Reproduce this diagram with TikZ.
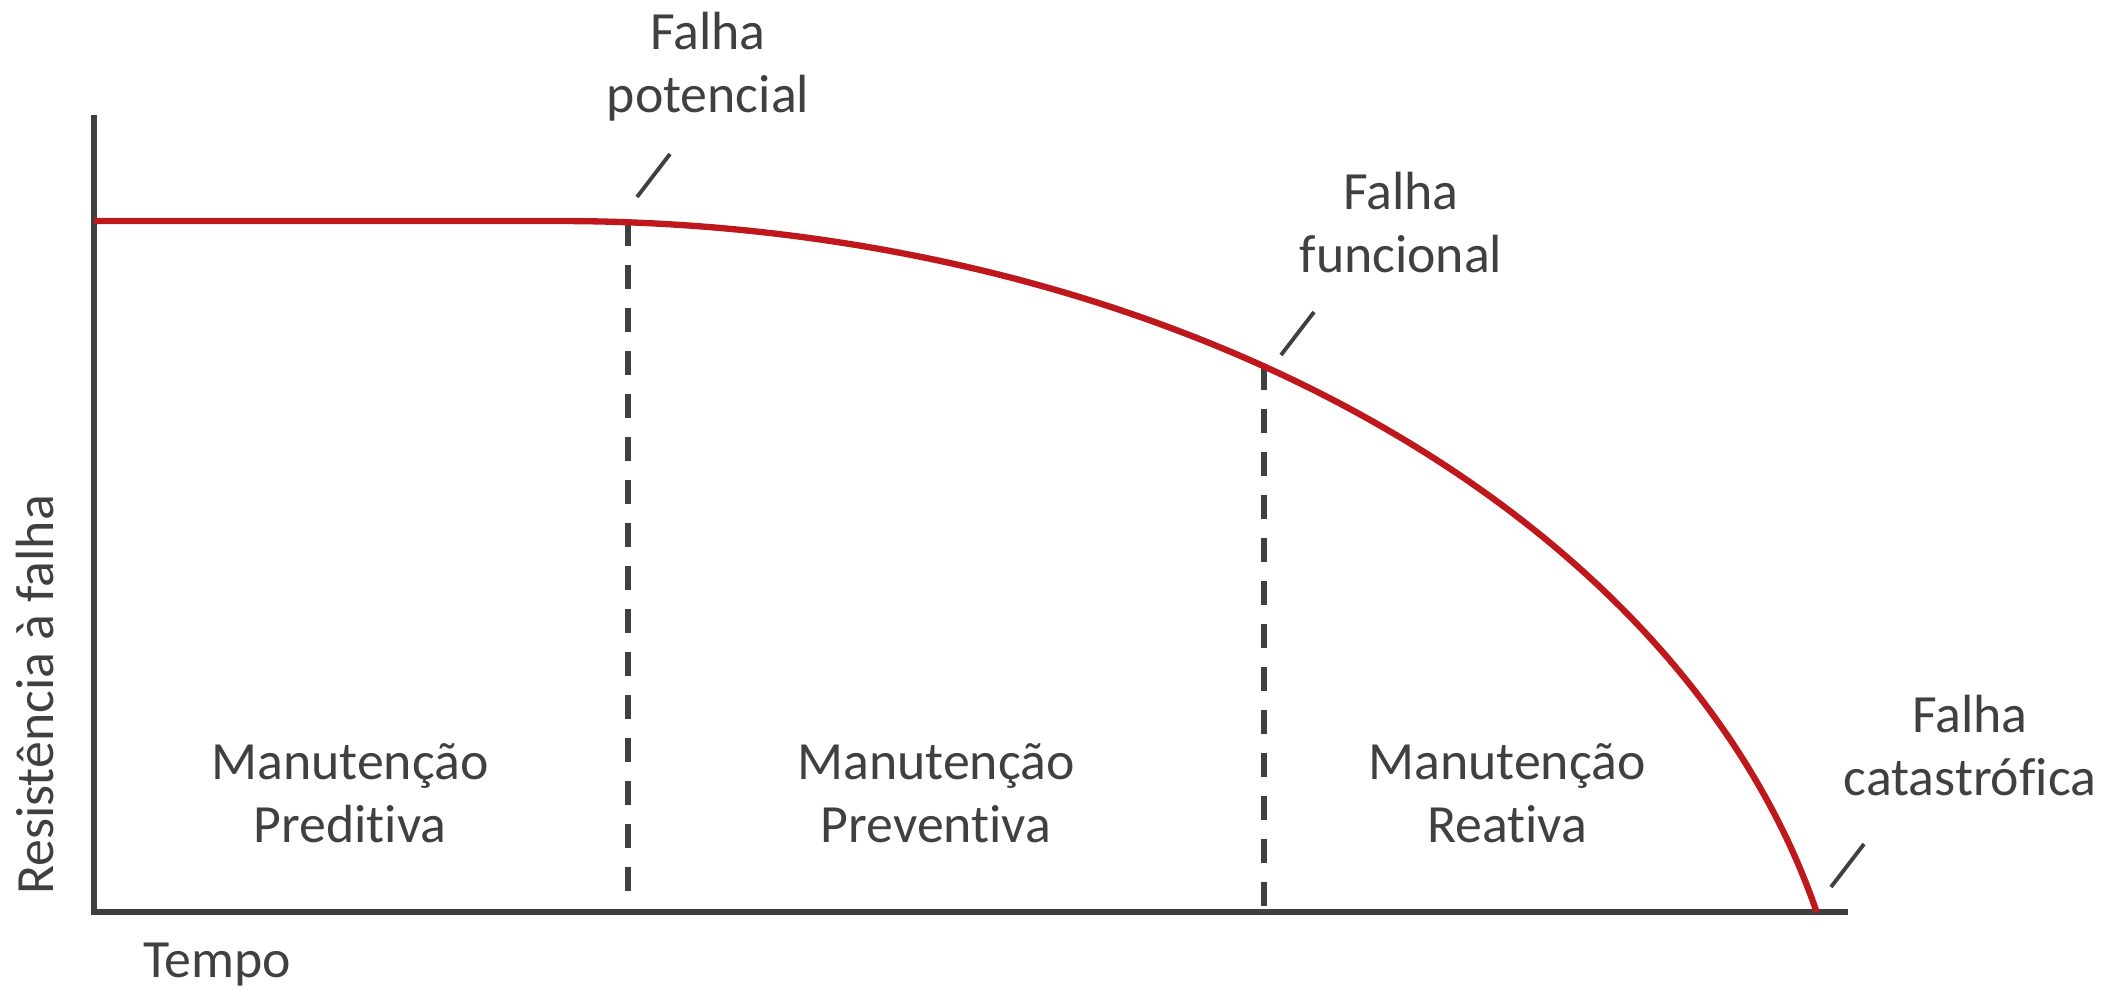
\documentclass[tikz,border=0pt]{standalone}
\usepackage{fontspec}
\setmainfont[Ligatures=NoCommon]{Carlito}
\definecolor{axisgray}{RGB}{64,64,64}
\definecolor{curvered}{RGB}{190,24,28}
\begin{document}
\begin{tikzpicture}[x=0.01cm,y=-0.01cm,
  lbl/.style={font=\fontsize{15.3pt}{17.8pt}\selectfont, text=axisgray, align=center, inner sep=0pt, anchor=base},
  axisline/.style={draw=axisgray, line width=1.5pt},
  dashline/.style={draw=axisgray, line width=1.7pt, dash pattern=on 0.24cm off 0.19cm},
  tickline/.style={draw=axisgray, line width=1.1pt},
  curveline/.style={draw=curvered, line width=1.8pt}]
\useasboundingbox (0,0) rectangle (2121,990);
% axes
\coordinate (ytop) at (94,115);
\coordinate (origin) at (94,912);
\coordinate (xend) at (1848,912);
\draw[axisline] (ytop) -- (origin) -- (xend);
% dashed lines
\coordinate (d1top) at (628,222);
\coordinate (d1bot) at (628,912);
\coordinate (d2top) at (1264,366);
\coordinate (d2bot) at (1264,912);
\draw[dashline] (d1top) -- (d1bot);
\draw[dashline] (d2top) -- (d2bot);
% curve
\draw[curveline] (94,221) -- (560,221) plot[domain=90:13.43, samples=80, smooth] ({560+1292*cos(\x)}, {1121-900*sin(\x)});
% tick marks
\coordinate (t1a) at (637,197); \coordinate (t1b) at (670,154);
\coordinate (t2a) at (1281,355); \coordinate (t2b) at (1314,312);
\coordinate (t3a) at (1831,887); \coordinate (t3b) at (1864,844);
\draw[tickline] (t1a) -- (t1b);
\draw[tickline] (t2a) -- (t2b);
\draw[tickline] (t3a) -- (t3b);
% labels (anchor base = baseline of last line)
\node[lbl] (fp) at (708,112) {Falha\\potencial};
\node[lbl] (ff) at (1401,272) {Falha\\funcional};
\node[lbl] (fc) at (1970,795) {Falha\\catastrófica};
\node[lbl] (m1) at (350,842) {Manutenção\\Preditiva};
\node[lbl] (m2) at (936,842) {Manutenção\\Preventiva};
\node[lbl] (m3) at (1507,842) {Manutenção\\Reativa};
\node[lbl] (tempo) at (217,977) {Tempo};
\node[lbl, rotate=90] (res) at (53,695) {Resistência à falha};
\end{tikzpicture}
\end{document}
